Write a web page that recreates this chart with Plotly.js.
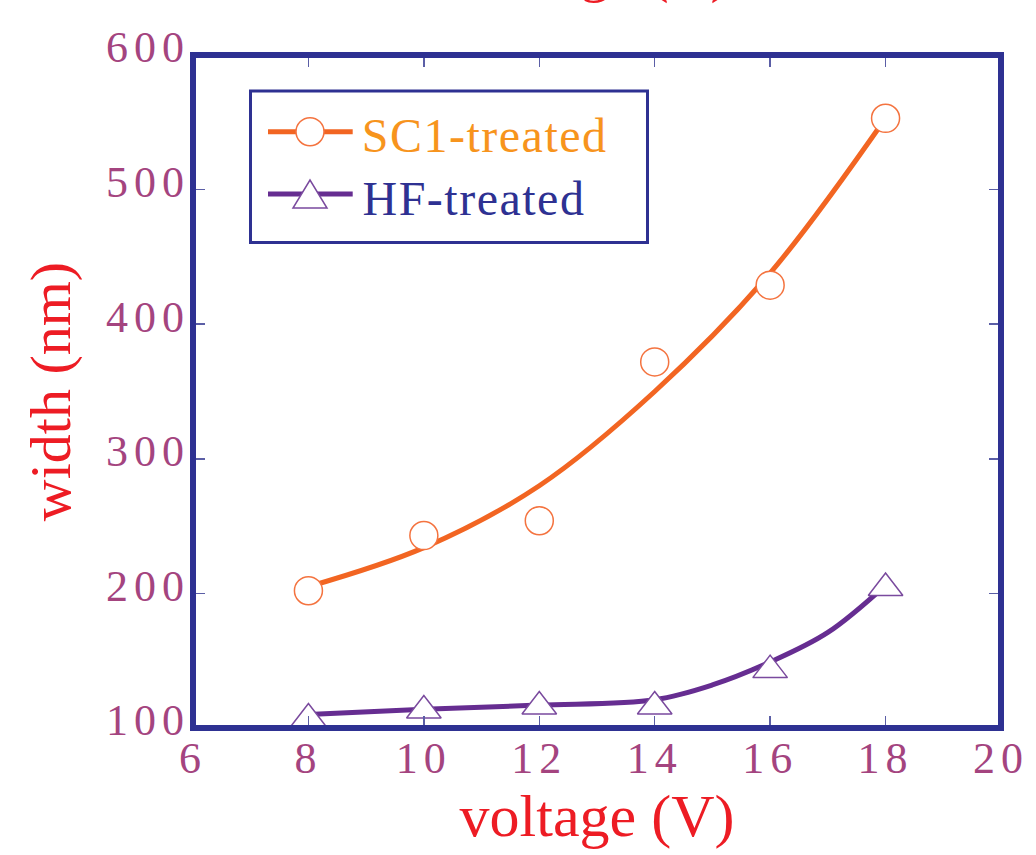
<!DOCTYPE html>
<html>
<head>
<meta charset="utf-8">
<script src="https://cdn.plot.ly/plotly-3.0.1.min.js"></script>
<style>
html,body{margin:0;padding:0;background:#fff;}
#chart{width:1036px;height:855px;}
.xtick text, .ytick text { letter-spacing: 6px; }
g.annotation[data-index="1"] text, g.annotation[data-index="2"] text { letter-spacing: 1.5px; }
</style>
</head>
<body>
<div id="chart"></div>
<script>
// Measured data points
const voltage = [8, 10, 12, 14, 16, 18];
const sc1Width = [202, 243, 254, 372, 429, 553];
const hfWidth = [107, 113, 116, 116, 143, 204];

// Fitted curves
const sc1FitX = [8, 10, 12, 14, 16, 18];
const sc1FitY = [205, 234, 280, 350, 438, 553];
const hfFitX = [8, 10, 12, 14, 15, 16, 17, 18];
const hfFitY = [110, 114, 117, 121, 132, 149, 171, 206];

const xTicks = [6, 8, 10, 12, 14, 16, 18, 20];
const yTicks = [100, 200, 300, 400, 500, 600];

const seriesNames = ['SC1-treated', 'HF-treated'];
const xTitle = 'voltage (V)';
const yTitle = 'width (nm)';

const SERIF = '"Liberation Serif", "Times New Roman", serif';
const ORANGE = '#f26522';
const ORANGE_MK = '#f4733f';
const PURPLE = '#662d91';
const PURPLE_MK = '#7a4a9e';
const NAVY = '#2e3192';
const LABEL = '#a4447f';
const RED = '#ed1c24';

// plot-area geometry (pixels) used to place the hand-built legend box
const W = 1036, H = 855, ML = 193, MR = 35, MT = 55, MB = 127;
const PW = W - ML - MR, PH = H - MT - MB;
const px = v => (v - ML) / PW;
const py = v => (H - MB - v) / PH;

const traces = [
  {x: sc1FitX, y: sc1FitY, mode: 'lines', line: {color: ORANGE, width: 5, shape: 'spline', smoothing: 1}, showlegend: false, hoverinfo: 'skip'},
  {x: hfFitX, y: hfFitY, mode: 'lines', line: {color: PURPLE, width: 5, shape: 'spline', smoothing: 1}, showlegend: false, hoverinfo: 'skip'},
  {x: voltage, y: sc1Width, mode: 'markers', name: seriesNames[0], marker: {symbol: 'circle', size: 28, color: '#ffffff', line: {color: ORANGE_MK, width: 1.5}}, showlegend: false},
  {x: voltage, y: hfWidth, mode: 'markers', name: seriesNames[1], marker: {symbol: 'triangle-up', size: 30, color: '#ffffff', line: {color: PURPLE_MK, width: 1.5}}, showlegend: false}
];

const axisCommon = {
  showgrid: false, zeroline: false, showline: false,
  ticks: 'inside', ticklen: 12, tickwidth: 1.5, tickcolor: '#5b5ea6', mirror: 'ticks',
  tickfont: {family: SERIF, size: 44, color: LABEL},
  automargin: false
};

// legend geometry
const lgRow1 = 131.7, lgRow2 = 194;
const lgLineX0 = 268, lgLineX1 = 352.7, lgMarkX = 310, lgTextX = 368;

const layout = {
  width: W, height: H,
  margin: {l: ML, r: MR, t: MT, b: MB},
  paper_bgcolor: '#ffffff', plot_bgcolor: '#ffffff',
  font: {family: SERIF},
  showlegend: false,
  xaxis: Object.assign({}, axisCommon, {
    range: [6, 20], tickvals: xTicks, ticktext: xTicks.map(String),
    title: {text: xTitle, font: {family: SERIF, size: 60, color: RED}, standoff: 0}
  }),
  yaxis: Object.assign({}, axisCommon, {
    range: [100, 600], tickvals: yTicks, ticktext: yTicks.map(String),
    ticklabelshift: -8, ticklabelstandoff: 2,
    title: {text: yTitle, font: {family: SERIF, size: 58, color: RED}, standoff: 16}
  }),
  shapes: [
    {type: 'rect', xref: 'paper', yref: 'paper', x0: 0, x1: 1, y0: 0, y1: 1, line: {color: NAVY, width: 6}, layer: 'above'},
    // legend box
    {type: 'rect', xref: 'paper', yref: 'paper', x0: px(250.5), x1: px(647.5), y0: py(242.5), y1: py(91),
     line: {color: NAVY, width: 3}, fillcolor: '#ffffff', layer: 'above'},
    {type: 'line', xref: 'paper', yref: 'paper', x0: px(lgLineX0), x1: px(lgLineX1), y0: py(lgRow1), y1: py(lgRow1),
     line: {color: ORANGE, width: 5}, layer: 'above'},
    {type: 'circle', xref: 'paper', yref: 'paper', xsizemode: 'pixel', ysizemode: 'pixel',
     xanchor: px(lgMarkX), yanchor: py(lgRow1), x0: -14, x1: 14, y0: -14, y1: 14,
     fillcolor: '#ffffff', line: {color: ORANGE_MK, width: 1.5}, layer: 'above'},
    {type: 'line', xref: 'paper', yref: 'paper', x0: px(lgLineX0), x1: px(lgLineX1), y0: py(lgRow2), y1: py(lgRow2),
     line: {color: PURPLE, width: 5}, layer: 'above'},
    {type: 'path', xref: 'paper', yref: 'paper', xsizemode: 'pixel', ysizemode: 'pixel',
     xanchor: px(lgMarkX), yanchor: py(lgRow2), path: 'M-17,-14L17,-14L0,14Z',
     fillcolor: '#ffffff', line: {color: PURPLE_MK, width: 1.5}, layer: 'above'}
  ],
  annotations: [
    {text: xTitle, xref: 'paper', yref: 'paper', x: 0.5, y: 1, xanchor: 'center', yanchor: 'bottom', yshift: 49, showarrow: false,
     font: {family: SERIF, size: 58, color: RED}},
    {text: seriesNames[0], xref: 'paper', yref: 'paper', x: px(lgTextX), y: py(lgRow1 + 4), xanchor: 'left', yanchor: 'middle', showarrow: false,
     font: {family: SERIF, size: 48, color: '#f7941d'}},
    {text: seriesNames[1], xref: 'paper', yref: 'paper', x: px(lgTextX), y: py(lgRow2 + 4), xanchor: 'left', yanchor: 'middle', showarrow: false,
     font: {family: SERIF, size: 48, color: NAVY}}
  ]
};

Plotly.newPlot('chart', traces, layout, {displayModeBar: false, staticPlot: true});
</script>
</body>
</html>
